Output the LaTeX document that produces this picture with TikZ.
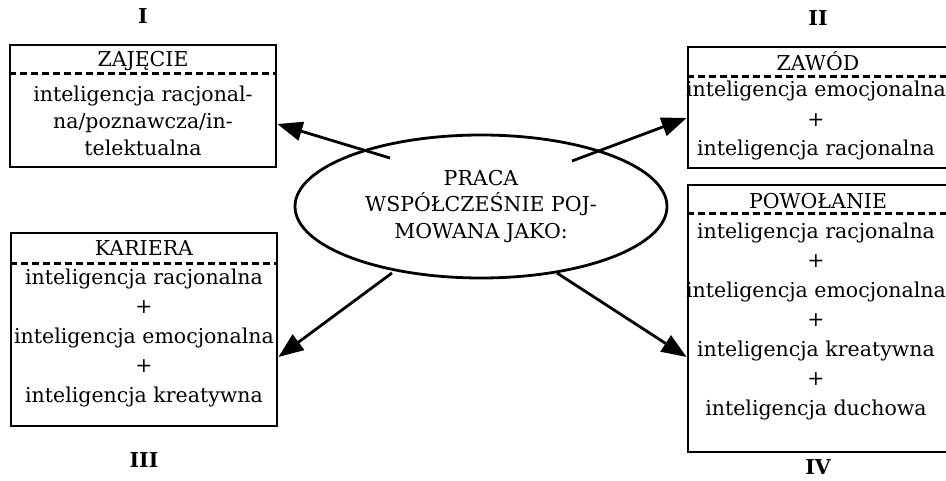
\documentclass[tikz,border=0pt]{standalone}
\usepackage{fontspec}
\setmainfont{DejaVu Serif}
\usetikzlibrary{positioning,arrows.meta,shapes.geometric,calc}

\begin{document}
\begin{tikzpicture}[x=1pt,y=-1pt,>={Triangle[length=25pt,width=19pt]},
  box/.style={draw,line width=2.8pt,rectangle,inner sep=0pt},
  sep/.style={line width=2.2pt,dash pattern=on 7pt off 4pt},
  txt/.style={align=center,inner sep=0pt,font=\fontsize{20.5}{29.5}\selectfont},
  num/.style={inner sep=0pt,font=\fontsize{20.5}{24}\selectfont\bfseries},
  arr/.style={->,line width=2.8pt}]
  \useasboundingbox (0,0) rectangle (946,481);
  % centre
  \node[draw,ellipse,line width=2.8pt,minimum width=372pt,minimum height=143pt,inner sep=0pt,
        align=center,font=\fontsize{20.5}{26.5}\selectfont] (praca) at (481,206.5)
        {PRACA\\WSPÓŁCZEŚNIE POJ-\\MOWANA JAKO:};
  % boxes
  \node[box,minimum width=266pt,minimum height=122pt] (zaj) at (143,106) {};
  \node[box,minimum width=260pt,minimum height=121pt] (zaw) at (818,107.5) {};
  \node[box,minimum width=266pt,minimum height=193pt] (kar) at (144,329.5) {};
  \node[box,minimum width=260pt,minimum height=267pt] (pow) at (818,318.5) {};
  % headers
  \node[txt] (zajh) at ([yshift=-17pt]zaj.north) {ZAJĘCIE};
  \node[txt] (zawh) at ([yshift=-16pt]zaw.north) {ZAWÓD};
  \node[txt] (karh) at ([yshift=-16pt]kar.north) {KARIERA};
  \node[txt] (powh) at ([yshift=-17pt]pow.north) {POWOŁANIE};
  \draw[sep] ([yshift=-30pt]zaj.north west) -- ([yshift=-30pt]zaj.north east);
  \draw[sep] ([yshift=-31pt]zaw.north west) -- ([yshift=-31pt]zaw.north east);
  \draw[sep] ([yshift=-32pt]kar.north west) -- ([yshift=-32pt]kar.north east);
  \draw[sep] ([yshift=-30pt]pow.north west) -- ([yshift=-30pt]pow.north east);
  % contents
  \node[txt,font=\fontsize{20.5}{27}\selectfont] (zajb) at ([yshift=-77pt]zaj.north)
    {inteligencja racjonal-\\na/poznawcza/in-\\telektualna};
  \node[txt] (zawb) at ([xshift=-2pt,yshift=-75pt]zaw.north)
    {inteligencja emocjonalna\\+\\inteligencja racjonalna};
  \node[txt] (karb) at ([yshift=-106pt]kar.north)
    {inteligencja racjonalna\\+\\inteligencja emocjonalna\\+\\inteligencja kreatywna};
  \node[txt] (powb) at ([xshift=-2pt,yshift=-137.5pt]pow.north)
    {inteligencja racjonalna\\+\\inteligencja emocjonalna\\+\\inteligencja kreatywna\\+\\inteligencja duchowa};
  % numbers
  \node[num,above=20pt of zaj] (n1) {I};
  \node[num,above=20pt of zaw] (n2) {II};
  \node[num,below=24.5pt of kar] (n3) {III};
  \node[num,below=6pt of pow] (n4) {IV};
  % arrows
  \coordinate (s1) at ($(praca.center)+(-91,-48.5)$);
  \coordinate (s2) at ($(praca.center)+(91,-45.5)$);
  \coordinate (s3) at ($(praca.center)+(-89,66.5)$);
  \coordinate (s4) at ($(praca.center)+(76,66.5)$);
  \draw[arr] (s1) -- ([yshift=-18pt]zaj.east);
  \draw[arr] (s2) -- ([yshift=-10.5pt]zaw.west);
  \draw[arr] (s3) -- ([yshift=-27.5pt]kar.east);
  \draw[arr] (s4) -- ([yshift=-38.5pt]pow.west);
\end{tikzpicture}
\end{document}
